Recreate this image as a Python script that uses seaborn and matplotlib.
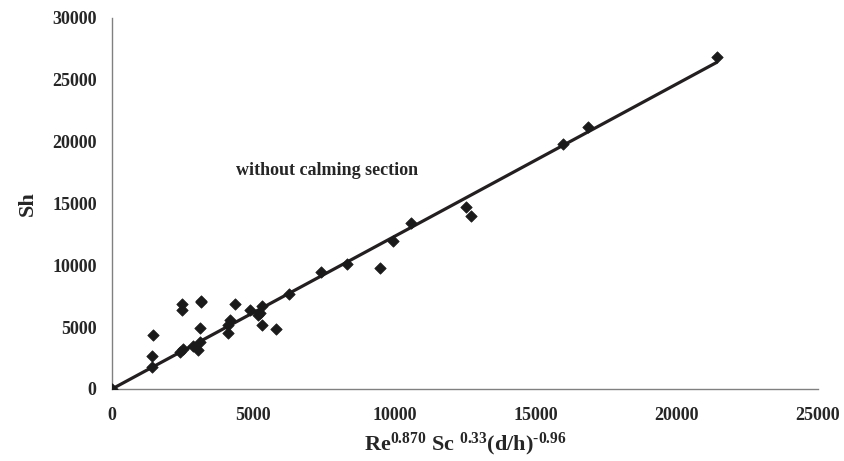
import matplotlib
matplotlib.use('Agg')
import matplotlib.pyplot as plt
import seaborn as sns
import numpy as np
import pandas as pd

# Data
x_vals = [0, 1430, 1430, 1460, 2410, 2520, 2470, 2470, 2880, 3060, 3120, 3120,
          3150, 3170, 4120, 4120, 4180, 4360, 4890, 5160, 5240, 5300, 5320, 5810,
          6270, 7400, 8330, 9490, 9940, 10580, 12540, 12710, 15960, 16850, 21410]
sh_vals = [0, 1780, 2640, 4400, 3030, 3200, 6420, 6850, 3500, 3150, 3800, 4950,
           7000, 7150, 4500, 5200, 5550, 6850, 6400, 5950, 6150, 6750, 5200, 4850,
           7700, 9450, 10080, 9810, 11950, 13450, 14740, 14010, 19810, 21160, 26820]
x_ticks = [0, 5000, 10000, 15000, 20000, 25000]
y_ticks = [0, 5000, 10000, 15000, 20000, 25000, 30000]
note = 'without calming section'

df = pd.DataFrame({'X': x_vals, 'Sh': sh_vals})

# straight fit through the origin
x_arr = np.array(x_vals, dtype=float)
y_arr = np.array(sh_vals, dtype=float)
slope = (x_arr * y_arr).sum() / (x_arr ** 2).sum()
fit = pd.DataFrame({'X': [0, x_arr.max()], 'Sh': [0, slope * x_arr.max()]})

sns.set_style('white')
plt.rcParams['font.family'] = ['Liberation Serif', 'DejaVu Serif']
plt.rcParams['font.weight'] = 'bold'
plt.rcParams['mathtext.fontset'] = 'custom'
plt.rcParams['mathtext.rm'] = 'Liberation Serif:bold'
plt.rcParams['mathtext.bf'] = 'Liberation Serif:bold'
plt.rcParams['mathtext.default'] = 'bf'

fig = plt.figure(figsize=(8.45, 4.61), dpi=100)
ax = fig.add_axes([0.1325, 0.1562, 0.8355, 0.8048])

sns.lineplot(data=fit, x='X', y='Sh', ax=ax, color='#231f20', linewidth=2.3)
sns.scatterplot(data=df, x='X', y='Sh', ax=ax, marker='D', s=34,
                color='#1a1a1a', edgecolor='#1a1a1a', linewidth=0.5, zorder=3)

ax.set_xlim(0, 25000)
ax.set_ylim(0, 30000)
ax.set_xticks(x_ticks)
ax.set_yticks(y_ticks)
ax.tick_params(axis='y', direction='out', length=4, width=1, color='#808080',
               labelsize=13, pad=7)
ax.tick_params(axis='x', direction='out', length=4, width=1, color='#808080',
               labelsize=13, pad=9)
for lab in ax.get_xticklabels() + ax.get_yticklabels():
    lab.set_fontweight('bold')

for side in ['top', 'right']:
    ax.spines[side].set_visible(False)
for side in ['left', 'bottom']:
    ax.spines[side].set_color('#808080')
    ax.spines[side].set_linewidth(1)

ax.set_xlabel(r'Re$^{0.870}$ Sc $^{0.33}$(d/h)$^{\text{-0.96}}$', fontsize=16,
              fontweight='bold', labelpad=5)
ax.set_ylabel('Sh', fontsize=16, fontweight='bold', labelpad=10)

ax.text(7600, 17700, note, ha='center', va='center', fontsize=13,
        fontweight='bold')

plt.savefig('out.png', dpi=100)
